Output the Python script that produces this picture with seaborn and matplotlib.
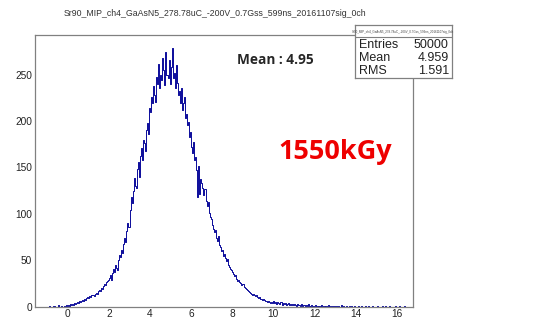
import numpy as np
import pandas as pd
import matplotlib
matplotlib.use("Agg")
import matplotlib.pyplot as plt
from matplotlib.ticker import MultipleLocator
import seaborn as sns

title = "Sr90_MIP_ch4_GaAsN5_278.78uC_-200V_0.7Gss_599ns_20161107sig_0ch"

# histogram counts, bins of 0.05 starting at -1.0
bin_start = -1.0
bin_width = 0.05
tail_left = [0, 0, 1, 0, 0, 0, 1, 0, 0, 0, 2, 0, 0, 1, 0, 0, 1, 0, 2, 1]
rise = [2, 1, 3, 2, 3, 2, 4, 3, 4, 5, 4, 6, 5, 6, 7, 6, 8, 7, 9, 10,
        9, 11, 10, 12, 13, 11, 14, 15, 14, 17, 18, 17, 20, 19, 22, 24, 23, 26, 28, 29,
        31, 34, 29, 36, 40, 37, 45, 42, 39, 50, 56, 53, 61, 58, 67, 74, 70, 82, 90, 86]
peak = [104, 118, 112, 125, 139, 130, 128, 148, 156, 140, 162, 171, 158, 180, 176, 168, 190, 198, 186, 214,
        210, 226, 219, 238, 228, 221, 248, 240, 262, 236, 250, 244, 268, 255, 239, 274, 250, 246, 266, 240,
        258, 279, 247, 252, 236, 260, 241, 228, 232, 219, 236, 212, 220, 226, 203, 208, 196, 199, 183, 188]
fall = [172, 166, 178, 158, 161, 147, 118, 152, 121, 138, 133, 128, 120, 127, 114, 108, 113, 101, 97, 94,
        88, 84, 80, 83, 74, 71, 76, 66, 64, 60, 61, 55, 57, 52, 49, 51, 45, 43, 40, 39,
        37, 35, 33, 34, 30, 28, 29, 26, 25, 23, 24, 21, 20, 19, 18, 17, 16, 15, 14, 13]
tail_right = [14, 12, 11, 12, 10, 9, 10, 8, 8, 7, 8, 7, 6, 6, 5, 6, 5, 4, 5, 4,
              6, 4, 5, 3, 5, 4, 3, 5, 2, 4, 3, 4, 2, 3, 4, 2, 3, 2, 3, 2,
              3, 2, 1, 3, 2, 2, 1, 3, 1, 2, 2, 1, 2, 1, 3, 1, 1, 2, 1, 0,
              1, 2, 0, 1, 1, 0, 2, 1, 0, 1, 1, 0, 1, 2, 0, 1, 0, 1, 0, 1,
              0, 1, 0, 1, 0, 0, 2, 0, 1, 0, 0, 1, 0, 0, 1, 0, 1, 0, 0, 1,
              0, 0, 1, 0, 0, 1, 0, 0, 0, 1, 0, 0, 1, 0, 0, 0, 1, 0, 0, 0,
              0, 1, 0, 0, 0, 0, 1, 0, 0, 1, 0, 0, 0, 1, 0, 0, 0, 0, 1, 0,
              0, 0, 1, 0, 0, 0, 0, 1, 0, 0]

stats_labels = ["Entries", "Mean", "RMS"]
stats_values = ["50000", "4.959", "1.591"]

counts = np.array(tail_left + rise + peak + fall + tail_right, dtype=float)
edges = bin_start + bin_width * np.arange(len(counts) + 1)
df = pd.DataFrame({"center": (edges[:-1] + edges[1:]) / 2, "count": counts})

sns.set_theme(style="white")
plt.rcParams['font.family'] = ['Liberation Sans', 'DejaVu Sans']

fig = plt.figure(figsize=(5.41, 3.2), dpi=100)
ax = fig.add_axes([0.0647, 0.042, 0.6987, 0.849])

sns.histplot(data=df, x="center", weights="count", bins=list(edges), element="step",
             fill=False, color="#0a0a9a", linewidth=0.7, ax=ax)

ax.set_xlim(-1.6, 16.8)
ax.set_ylim(0, 293)
ax.set_xlabel("")
ax.set_ylabel("")
ax.xaxis.set_major_locator(MultipleLocator(2))
ax.xaxis.set_minor_locator(MultipleLocator(0.5))
ax.yaxis.set_major_locator(MultipleLocator(50))
ax.yaxis.set_minor_locator(MultipleLocator(10))
ax.tick_params(axis="both", which="both", direction="in", colors="#808080",
               labelcolor="#222222", labelsize=7.3, pad=2)
ax.tick_params(axis="y", which="major", length=7, width=0.8)
ax.tick_params(axis="y", which="minor", length=3.5, width=0.8)
ax.tick_params(axis="x", which="major", length=5, width=0.8)
ax.tick_params(axis="x", which="minor", length=2.5, width=0.8)
for s in ax.spines.values():
    s.set_color("#808080")
    s.set_linewidth(0.9)

fig.text(0.398, 0.957, title, ha="center", va="center", fontsize=6.3, color="#333333")

ax.text(0.534, 0.906, "Mean : 4.95", transform=ax.transAxes, ha="left", va="center",
        fontsize=9.8, fontweight="bold", family=["Open Sans", "DejaVu Sans"])
ax.text(0.643, 0.569, "1550kGy", transform=ax.transAxes, ha="left", va="center",
        fontsize=19.5, fontweight="bold", color="#ee0000", family=["Open Sans", "DejaVu Sans"])

# stats box
bx = fig.add_axes([0.656, 0.756, 0.179, 0.166])
bx.set_xlim(0, 1)
bx.set_ylim(0, 1)
bx.set_xticks([])
bx.set_yticks([])
bx.set_facecolor("white")
for s in bx.spines.values():
    s.set_color("#808080")
    s.set_linewidth(0.9)
bx.text(0.5, 0.87, title, ha="center", va="center", fontsize=2.2, color="#444444")
bx.axhline(0.77, color="#808080", linewidth=0.8)
for i, (lab, val) in enumerate(zip(stats_labels, stats_values)):
    yy = 0.62 - i * 0.24
    bx.text(0.04, yy, lab, ha="left", va="center", fontsize=9, color="#222222")
    bx.text(0.97, yy, val, ha="right", va="center", fontsize=9, color="#222222")

fig.savefig("out.png", dpi=100)
